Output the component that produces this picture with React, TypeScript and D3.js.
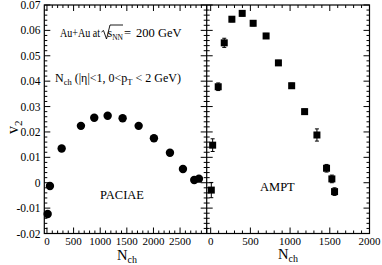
import * as d3 from "d3";

// PACIAE (left panel, circles)
const paciaeN = [13, 56, 276, 638, 888, 1140, 1421, 1722, 2009, 2310, 2554, 2766, 2854];
const paciaeV2 = [-0.0123, -0.0013, 0.0135, 0.0224, 0.0256, 0.0264, 0.0254, 0.0224, 0.0175, 0.0118, 0.0054, 0.0011, 0.0016];

// AMPT (right panel, squares with error bars)
const amptN = [8, 25, 95, 171, 267, 397, 535, 698, 853, 1020, 1183, 1338, 1459, 1526, 1560];
const amptV2 = [-0.0029, 0.0148, 0.0378, 0.0551, 0.0644, 0.0667, 0.0628, 0.0578, 0.0472, 0.0382, 0.028, 0.0188, 0.0057, 0.0015, -0.0035];
const amptErr = [0.003, 0.0025, 0.0015, 0.0018, 0.001, 0.001, 0.001, 0.001, 0.001, 0.001, 0.001, 0.0024, 0.0015, 0.0015, 0.0015];

const yTicks = [-0.02, -0.01, 0, 0.01, 0.02, 0.03, 0.04, 0.05, 0.06, 0.07];
const leftXTicks = [0, 500, 1000, 1500, 2000, 2500];
const rightXTicks = [0, 500, 1000, 1500, 2000];

const FONT = "'Liberation Serif', 'Times New Roman', serif";
const TOP = 5;
const BOTTOM = 233.5;
const X0 = 44.3;
const XMID = 206.7;
const X1 = 369.5;
const MAJ = 6;
const MIN = 3;

export default function App() {
  const y = d3.scaleLinear().domain([-0.02, 0.07]).range([BOTTOM, TOP]);
  const xL = d3.scaleLinear().domain([-50, 3000]).range([X0, XMID]);
  const xR = d3.scaleLinear().domain([-50, 2000]).range([XMID, X1]);

  const yMinor = d3.range(-0.02, 0.0701, 0.002);
  const xLMinor = d3.range(0, 3001, 100);
  const xRMinor = d3.range(0, 2001, 100);
  const isMajorY = (v: number) => Math.abs(v * 100 - Math.round(v * 100)) < 1e-6;

  const fmtY = (v: number) => (Math.abs(v) < 1e-9 ? "0" : v.toFixed(2));

  // x ticks: bottom pointing up, top pointing down
  const xTickMarks = (scale: d3.ScaleLinear<number, number>, vals: number[], key: string) =>
    vals.map((v) => {
      const len = v % 500 === 0 ? MAJ : MIN;
      const px = scale(v);
      return (
        <g key={`${key}${v}`}>
          <line x1={px} x2={px} y1={BOTTOM} y2={BOTTOM - len} stroke="#000" strokeWidth={1} />
          <line x1={px} x2={px} y1={TOP} y2={TOP + len} stroke="#000" strokeWidth={1} />
        </g>
      );
    });

  return (
    <svg
      width={382}
      height={265}
      style={{ position: "absolute", left: 0, top: 0, background: "#fff" }}
      fontFamily={FONT}
    >
      {/* frame */}
      <rect x={X0} y={TOP} width={X1 - X0} height={BOTTOM - TOP} fill="none" stroke="#000" strokeWidth={1.2} />
      <line x1={XMID} x2={XMID} y1={TOP} y2={BOTTOM} stroke="#000" strokeWidth={1.2} />

      {/* y ticks on both panels */}
      {yMinor.map((v) => {
        const len = isMajorY(v) ? MAJ : MIN;
        const py = y(v);
        return (
          <g key={`y${v.toFixed(3)}`}>
            <line x1={X0} x2={X0 + len} y1={py} y2={py} stroke="#000" strokeWidth={1} />
            <line x1={XMID - len} x2={XMID + len} y1={py} y2={py} stroke="#000" strokeWidth={1} />
            <line x1={X1 - len} x2={X1} y1={py} y2={py} stroke="#000" strokeWidth={1} />
          </g>
        );
      })}
      {yTicks.map((v) => (
        <text key={`yl${v}`} x={40.5} y={y(v)} dy="0.35em" textAnchor="end" fontSize={11.5}>
          {fmtY(v)}
        </text>
      ))}

      {/* x ticks */}
      {xTickMarks(xL, xLMinor, "xl")}
      {xTickMarks(xR, xRMinor, "xr")}
      {leftXTicks.map((v) => (
        <text key={`xll${v}`} x={xL(v)} y={BOTTOM + 11.5} textAnchor="middle" fontSize={11}>
          {v}
        </text>
      ))}
      {rightXTicks.map((v) => (
        <text key={`xrl${v}`} x={xR(v)} y={BOTTOM + 11.5} textAnchor="middle" fontSize={11}>
          {v}
        </text>
      ))}

      {/* axis titles */}
      <text x={117} y={259.5} fontSize={14.5}>
        N<tspan dy={3} fontSize={10}>ch</tspan>
      </text>
      <text x={278} y={259} fontSize={14.5}>
        N<tspan dy={3} fontSize={10}>ch</tspan>
      </text>
      <text transform="translate(18,134) rotate(-90)" fontSize={16}>
        v<tspan dy={4} fontSize={11}>2</tspan>
      </text>

      {/* annotations */}
      <text x={60} y={37} fontSize={12} textLength={40} lengthAdjust="spacingAndGlyphs">
        Au+Au at
      </text>
      <path d="M101.5,32 L103.5,30.5 L106.5,39 L110,25 L123,25" fill="none" stroke="#000" strokeWidth={0.9} />
      <text x={107.5} y={37} fontSize={12}>
        s<tspan dy={3} fontSize={7.5}>NN</tspan>
      </text>
      <text x={124} y={37} fontSize={12.5}>=</text>
      <text x={136} y={37} fontSize={12.5}>200 GeV</text>
      <text x={55} y={82} fontSize={12}>
        N<tspan dy={3} fontSize={8.5}>ch</tspan>
        <tspan dy={-3}> (|η|&lt;1, 0&lt;p</tspan>
        <tspan dy={3} fontSize={8.5}>T</tspan>
        <tspan dy={-3}> &lt; 2 GeV)</tspan>
      </text>
      <text x={100} y={199} fontSize={12.5}>PACIAE</text>
      <text x={260} y={191} fontSize={12.5}>AMPT</text>

      {/* PACIAE circles */}
      {paciaeN.map((n, i) => (
        <circle key={`p${i}`} cx={xL(n)} cy={y(paciaeV2[i])} r={4.2} fill="#000" />
      ))}

      {/* AMPT squares with error bars */}
      {amptN.map((n, i) => {
        const cx = xR(n);
        const cy = y(amptV2[i]);
        const hi = y(amptV2[i] + amptErr[i]);
        const lo = y(amptV2[i] - amptErr[i]);
        return (
          <g key={`a${i}`}>
            <line x1={cx} x2={cx} y1={hi} y2={lo} stroke="#000" strokeWidth={1} />
            <line x1={cx - 2} x2={cx + 2} y1={hi} y2={hi} stroke="#000" strokeWidth={1} />
            <line x1={cx - 2} x2={cx + 2} y1={lo} y2={lo} stroke="#000" strokeWidth={1} />
            <rect x={cx - 3.5} y={cy - 3.5} width={7} height={7} fill="#000" />
          </g>
        );
      })}
    </svg>
  );
}
